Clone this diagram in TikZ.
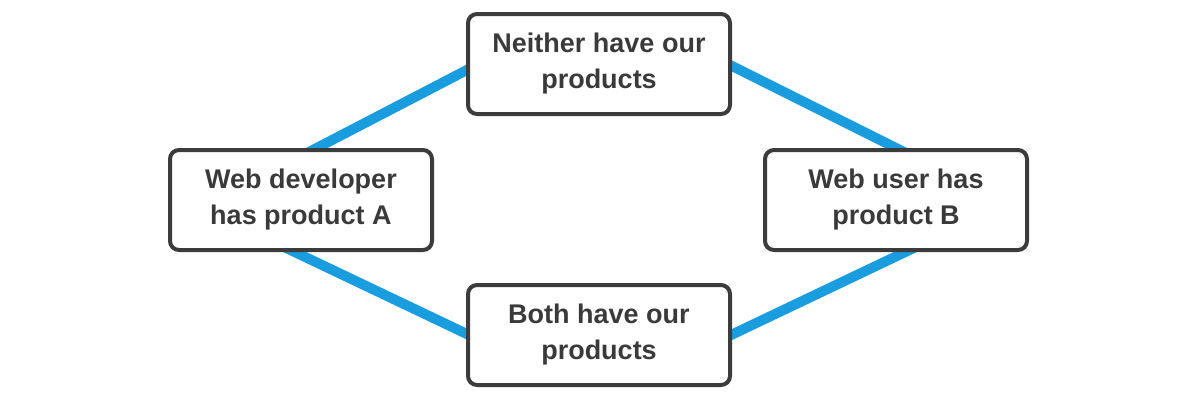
\documentclass[tikz,border=0pt]{standalone}
\usepackage{fontspec}
\setmainfont{Liberation Sans}
\begin{document}
\begin{tikzpicture}[x=1pt,y=-1pt,
  box/.style={draw=boxgray,line width=4pt,rounded corners=9pt,fill=white,minimum width=262pt,minimum height=100pt,align=center,font=\fontsize{27}{36}\selectfont\bfseries,text=txtgray},
  link/.style={draw=linkblue,line width=10pt}]
\definecolor{boxgray}{HTML}{3C3C3C}
\definecolor{txtgray}{HTML}{3A3A3A}
\definecolor{linkblue}{HTML}{1A9DDF}
\useasboundingbox[fill=white] (0,0) rectangle (1200,400);
\coordinate (a1) at (284,165); \coordinate (a2) at (490,58);
\coordinate (b1) at (280,245); \coordinate (b2) at (490,345);
\coordinate (c1) at (710,55); \coordinate (c2) at (920,160);
\coordinate (d1) at (710,345); \coordinate (d2) at (920,245);
\draw[link] (a1) -- (a2);
\draw[link] (b1) -- (b2);
\draw[link] (c1) -- (c2);
\draw[link] (d1) -- (d2);
\node[box] (top) at (599,64) {Neither have our\\products};
\node[box] (left) at (301,200) {Web developer\\has product A};
\node[box] (right) at (896,200) {Web user has\\product B};
\node[box] (bot) at (599,335) {Both have our\\products};
\end{tikzpicture}
\end{document}
